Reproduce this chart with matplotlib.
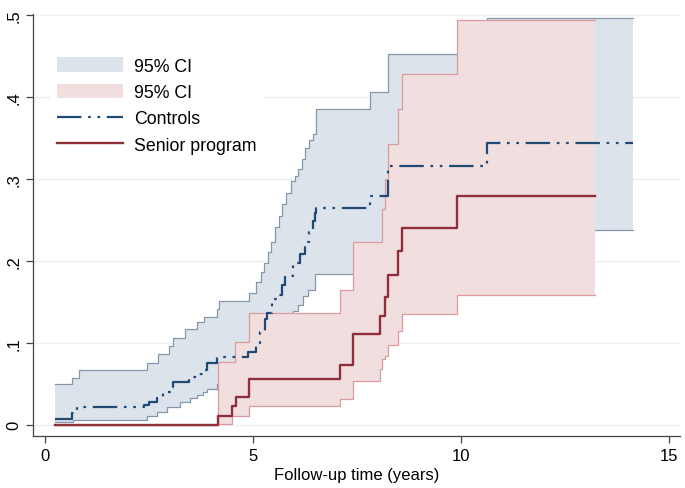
import matplotlib
matplotlib.use("Agg")
import matplotlib.pyplot as plt
import numpy as np
from matplotlib.patches import Patch
from matplotlib.lines import Line2D

plt.rcParams['font.family'] = ['Liberation Sans', 'DejaVu Sans']

# Controls: cumulative incidence and 95% CI (step functions)
ctl_t = [0.24, 0.66, 0.78, 2.38, 2.50, 2.68, 2.84, 3.00, 3.08, 3.45, 3.65, 3.77, 3.89, 4.13,
         4.88, 5.08, 5.17, 5.29, 5.33, 5.45, 5.57, 5.69, 5.77, 5.96, 6.13, 6.25, 6.35, 6.44,
         6.49, 6.51, 7.81, 8.23, 10.62, 14.13]
ctl_est = [0.007, 0.014, 0.022, 0.024, 0.028, 0.033, 0.040, 0.046, 0.052, 0.058, 0.062, 0.067,
           0.075, 0.083, 0.089, 0.100, 0.113, 0.129, 0.137, 0.153, 0.159, 0.170, 0.182, 0.198,
           0.208, 0.223, 0.235, 0.249, 0.259, 0.265, 0.279, 0.316, 0.344, 0.344]

ctl_hi_t = [0.24, 0.64, 0.82, 2.44, 2.72, 2.98, 3.08, 3.37, 3.65, 3.81, 4.13, 4.17, 4.89, 5.07,
            5.19, 5.27, 5.35, 5.43, 5.52, 5.62, 5.70, 5.79, 5.90, 6.01, 6.08, 6.17, 6.25, 6.35,
            6.43, 6.51, 7.81, 8.23, 10.62, 14.13]
ctl_hi = [0.050, 0.057, 0.067, 0.076, 0.086, 0.096, 0.106, 0.117, 0.125, 0.131, 0.141, 0.151,
          0.161, 0.174, 0.186, 0.198, 0.211, 0.223, 0.241, 0.255, 0.269, 0.283, 0.298, 0.304,
          0.312, 0.324, 0.338, 0.348, 0.355, 0.385, 0.406, 0.453, 0.496, 0.496]

ctl_lo_t = [0.24, 0.68, 2.44, 2.70, 2.93, 3.25, 3.49, 3.65, 3.80, 3.89, 4.13, 4.88, 5.17, 5.33,
            5.57, 5.77, 5.96, 6.08, 6.20, 6.33, 6.49, 7.81, 8.23, 10.62, 14.13]
ctl_lo = [0.003, 0.006, 0.011, 0.016, 0.022, 0.028, 0.033, 0.036, 0.040, 0.044, 0.050, 0.056,
          0.072, 0.090, 0.108, 0.125, 0.139, 0.146, 0.157, 0.165, 0.184, 0.196, 0.228, 0.238, 0.238]

# Senior program
sen_t = [0.24, 4.15, 4.50, 4.60, 4.89, 7.09, 7.41, 8.05, 8.16, 8.23, 8.49, 8.57, 9.90, 13.22]
sen_est = [0.0, 0.011, 0.023, 0.034, 0.056, 0.073, 0.111, 0.133, 0.156, 0.183, 0.212, 0.240,
           0.279, 0.279]

sen_lo_t = [0.24, 4.15, 4.50, 4.89, 7.09, 7.41, 8.05, 8.09, 8.16, 8.25, 8.49, 8.57, 9.90, 13.22]
sen_lo = [0.0, 0.001, 0.011, 0.023, 0.032, 0.054, 0.068, 0.080, 0.084, 0.098, 0.115, 0.135,
          0.159, 0.159]

sen_hi_t = [0.24, 4.15, 4.57, 4.89, 7.09, 7.41, 8.09, 8.16, 8.23, 8.49, 8.57, 9.90, 13.22]
sen_hi = [0.0, 0.077, 0.101, 0.137, 0.164, 0.223, 0.263, 0.300, 0.342, 0.385, 0.428, 0.494, 0.494]

x_ticks = [0, 5, 10, 15]
y_ticks = [0, 0.1, 0.2, 0.3, 0.4, 0.5]
y_labels = ['0', '.1', '.2', '.3', '.4', '.5']

blue_fill, blue_edge, blue_line = '#dce3eb', '#8597ab', '#1f4a75'
red_fill, red_edge, red_line = '#f1dfdf', '#dc9a9f', '#8e2f3a'


def step_at(tt, t, v):
    idx = np.searchsorted(t, tt, side='right') - 1
    return np.asarray(v)[np.clip(idx, 0, None)]


def band(ax, lo_t, lo, hi_t, hi, fill, edge, z):
    tt = np.union1d(lo_t, hi_t)
    ax.fill_between(tt, step_at(tt, lo_t, lo), step_at(tt, hi_t, hi), step='post',
                    color=fill, lw=0, zorder=z)
    ax.step(lo_t, lo, where='post', color=edge, lw=0.9, zorder=z + 0.1)
    ax.step(hi_t, hi, where='post', color=edge, lw=0.9, zorder=z + 0.1)


fig = plt.figure(figsize=(6.85, 4.89), dpi=100)
ax = fig.add_axes([0.048, 0.106, 0.945, 0.863])

band(ax, ctl_lo_t, ctl_lo, ctl_hi_t, ctl_hi, blue_fill, blue_edge, 1)
band(ax, sen_lo_t, sen_lo, sen_hi_t, sen_hi, red_fill, red_edge, 1.5)

dash = (0, (11, 3, 1.2, 3, 1.2, 3))
ax.step(ctl_t, ctl_est, where='post', color=blue_line, lw=1.6, ls=dash, zorder=3)
ax.step(sen_t, sen_est, where='post', color=red_line, lw=1.7, zorder=3)

ax.set_xlim(-0.29, 15.26)
ax.set_ylim(-0.0138, 0.501)
ax.set_xticks(x_ticks)
ax.set_yticks(y_ticks)
ax.set_yticklabels(y_labels, rotation=90, va='center')
ax.tick_params(labelsize=12, length=5, width=0.9, color='#444444')
ax.grid(axis='y', color='#eaf1f3', lw=1, zorder=0)
ax.set_axisbelow(True)
for s in ['top', 'right']:
    ax.spines[s].set_visible(False)
for s in ['left', 'bottom']:
    ax.spines[s].set_color('#444444')
    ax.spines[s].set_linewidth(0.9)
ax.set_xlabel('Follow-up time (years)', fontsize=12, labelpad=3)

handles = [Patch(facecolor=blue_fill, edgecolor='none'),
           Patch(facecolor=red_fill, edgecolor='none'),
           Line2D([], [], color=blue_line, lw=1.6, ls=dash),
           Line2D([], [], color=red_line, lw=1.7)]
labels = ['95% CI', '95% CI', 'Controls', 'Senior program']
leg = ax.legend(handles, labels, loc='upper left', bbox_to_anchor=(0.026, 0.915),
                fontsize=12.8, frameon=True, facecolor='white', edgecolor='none', framealpha=1,
                handlelength=3.75, handleheight=0.9, handletextpad=0.6, labelspacing=0.5,
                borderaxespad=0, fancybox=False)
leg.set_zorder(5)

fig.savefig('out.png', dpi=100)
